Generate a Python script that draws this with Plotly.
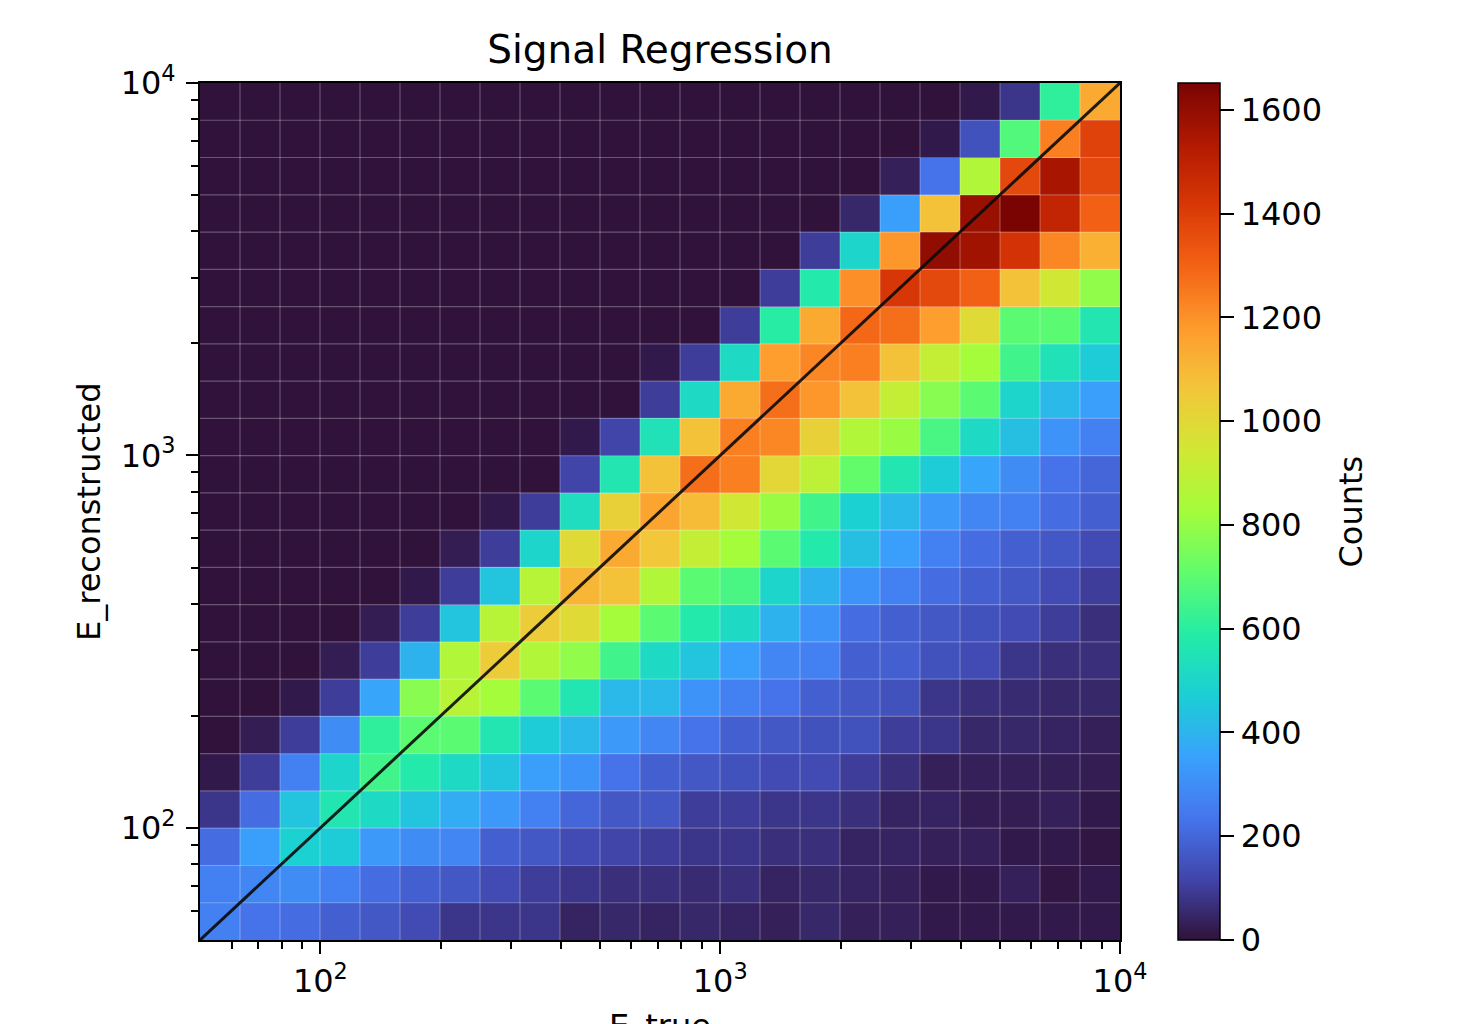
import numpy as np
import plotly.graph_objects as go

# ---- data -------------------------------------------------------------
# bin edges (log spaced, 23 bins from 50 to 1e4) for E_true and E_reconstructed
e_min, e_max, n_bins = 50.0, 1.0e4, 23
x_edges = list(np.logspace(np.log10(e_min), np.log10(e_max), n_bins + 1))
y_edges = list(np.logspace(np.log10(e_min), np.log10(e_max), n_bins + 1))

# counts per cell; each row is one E_reconstructed bin, listed from the TOP (highest) row down,
# each column one E_true bin from left (lowest) to right
counts_top_down = [
    [0, 0, 0, 0, 0, 0, 0, 0, 0, 0, 0, 0, 0, 0, 0, 0, 0, 0, 0, 17, 83, 611, 1140],
    [0, 0, 0, 0, 0, 0, 0, 0, 0, 0, 0, 0, 0, 0, 0, 0, 0, 0, 17, 149, 677, 1239, 1388],
    [0, 0, 0, 0, 0, 0, 0, 0, 0, 0, 0, 0, 0, 0, 0, 0, 0, 33, 231, 859, 1371, 1553, 1371],
    [0, 0, 0, 0, 0, 0, 0, 0, 0, 0, 0, 0, 0, 0, 0, 0, 50, 347, 1074, 1586, 1652, 1487, 1305],
    [0, 0, 0, 0, 0, 0, 0, 0, 0, 0, 0, 0, 0, 0, 0, 99, 496, 1189, 1602, 1569, 1437, 1222, 1123],
    [0, 0, 0, 0, 0, 0, 0, 0, 0, 0, 0, 0, 0, 0, 99, 578, 1206, 1421, 1371, 1305, 1074, 942, 793],
    [0, 0, 0, 0, 0, 0, 0, 0, 0, 0, 0, 0, 0, 99, 595, 1140, 1289, 1272, 1173, 991, 694, 694, 562],
    [0, 0, 0, 0, 0, 0, 0, 0, 0, 0, 0, 17, 99, 512, 1173, 1222, 1239, 1074, 909, 826, 644, 545, 463],
    [0, 0, 0, 0, 0, 0, 0, 0, 0, 0, 0, 99, 512, 1140, 1272, 1189, 1074, 909, 776, 694, 496, 413, 347],
    [0, 0, 0, 0, 0, 0, 0, 0, 0, 17, 116, 545, 1074, 1239, 1222, 1024, 859, 809, 661, 512, 430, 314, 264],
    [0, 0, 0, 0, 0, 0, 0, 0, 0, 116, 562, 1074, 1272, 1239, 1008, 892, 710, 562, 463, 363, 297, 231, 198],
    [0, 0, 0, 0, 0, 0, 0, 17, 99, 529, 1024, 1156, 1090, 942, 809, 644, 479, 413, 330, 281, 264, 215, 182],
    [0, 0, 0, 0, 0, 0, 25, 99, 496, 991, 1140, 1057, 909, 826, 694, 578, 430, 347, 264, 215, 182, 165, 132],
    [0, 0, 0, 0, 0, 17, 99, 446, 876, 1107, 1074, 859, 694, 661, 496, 396, 314, 264, 215, 182, 165, 132, 99],
    [0, 0, 0, 0, 25, 99, 446, 876, 1041, 991, 826, 694, 578, 512, 396, 314, 215, 182, 165, 149, 132, 99, 66],
    [0, 0, 0, 25, 99, 396, 859, 1041, 859, 793, 644, 512, 446, 347, 281, 264, 182, 182, 149, 132, 83, 66, 66],
    [0, 0, 17, 99, 363, 776, 876, 826, 694, 562, 413, 413, 314, 264, 231, 182, 165, 149, 83, 66, 58, 50, 50],
    [0, 25, 99, 297, 611, 694, 694, 562, 463, 413, 330, 281, 231, 182, 165, 149, 149, 99, 83, 50, 50, 41, 33],
    [17, 99, 264, 496, 644, 578, 512, 446, 347, 314, 231, 182, 165, 149, 132, 132, 99, 66, 33, 33, 33, 30, 25],
    [83, 215, 446, 562, 512, 446, 380, 330, 264, 198, 165, 165, 99, 99, 83, 83, 66, 41, 41, 25, 25, 33, 17],
    [215, 347, 479, 463, 330, 297, 281, 182, 165, 132, 116, 99, 83, 83, 66, 66, 41, 41, 33, 33, 17, 17, 8],
    [264, 281, 297, 264, 215, 182, 165, 132, 99, 83, 66, 66, 58, 66, 41, 50, 41, 33, 17, 17, 33, 8, 17],
    [264, 231, 215, 182, 165, 132, 83, 83, 83, 41, 50, 41, 50, 41, 33, 50, 33, 33, 17, 17, 17, 17, 17],
]
counts = counts_top_down[::-1]  # bottom row first for plotting

major_ticks = [1e2, 1e3, 1e4]
major_text = ["10<sup>2</sup>", "10<sup>3</sup>", "10<sup>4</sup>"]
cbar_ticks = [0, 200, 400, 600, 800, 1000, 1200, 1400, 1600]

# ---- figure -----------------------------------------------------------
FONT = "DejaVu Sans"
fig = go.Figure()

fig.add_trace(go.Heatmap(
    x=x_edges, y=y_edges, z=counts,
    colorscale="Turbo", zmin=0, zmax=max(max(r) for r in counts),
    colorbar=dict(
        x=(1178 - 200) / 920, xanchor="left", xpad=0, ypad=0,
        y=0.5, yanchor="middle", len=1, lenmode="fraction",
        thickness=42, thicknessmode="pixels",
        outlinewidth=1.5, outlinecolor="black",
        ticks="outside", ticklen=14, tickwidth=2, tickcolor="black",
        tickvals=cbar_ticks, tickfont=dict(family=FONT, size=32, color="black"),
    ),
    hoverinfo="skip",
))

# thin translucent white lines along every bin edge
gx, gy = [], []
for e in x_edges[1:-1]:
    gx += [e, e, None]
    gy += [y_edges[0], y_edges[-1], None]
for e in y_edges[1:-1]:
    gx += [x_edges[0], x_edges[-1], None]
    gy += [e, e, None]
fig.add_trace(go.Scatter(x=gx, y=gy, mode="lines",
                         line=dict(color="rgba(255,255,255,0.28)", width=1.2),
                         hoverinfo="skip", showlegend=False))

# identity line E_reco = E_true
fig.add_trace(go.Scatter(x=[x_edges[0], x_edges[-1]], y=[y_edges[0], y_edges[-1]],
                         mode="lines", line=dict(color="rgba(10,10,10,0.9)", width=3),
                         hoverinfo="skip", showlegend=False))

minor_vals = [m * 10 ** p for p in range(1, 5) for m in range(2, 10)
              if e_min < m * 10 ** p < e_max]

axis_common = dict(
    type="log", showgrid=False, zeroline=False, automargin=False,
    showline=True, mirror=True, linecolor="black", linewidth=2,
    ticks="outside", ticklen=12, tickwidth=2, tickcolor="black",
    tickvals=major_ticks, ticktext=major_text,
    tickfont=dict(family=FONT, size=32, color="black"),
    minor=dict(tickvals=minor_vals, ticks="outside", ticklen=7, tickwidth=1.5,
               tickcolor="black", showgrid=False),
)

label_font = dict(family=FONT, size=32, color="black")

# page body adds an 8px offset; the figure is sized/margined to compensate
fig.update_layout(
    width=1470, height=1016, autosize=False,
    margin=dict(l=192, r=358, t=75, b=84),
    paper_bgcolor="white", plot_bgcolor="white",
    font=dict(family=FONT, color="black"),
    title=dict(text="Signal Regression", x=0.5, xref="paper", xanchor="center",
               y=1 - 41 / 1016, yanchor="middle", yref="container",
               font=dict(family=FONT, size=39, color="black")),
    xaxis=dict(axis_common, range=[np.log10(x_edges[0]), np.log10(x_edges[-1])]),
    yaxis=dict(axis_common, range=[np.log10(y_edges[0]), np.log10(y_edges[-1])],
               ticklabelstandoff=4),
    annotations=[
        dict(text="Counts", textangle=-90, showarrow=False,
             xref="paper", yref="paper", x=(1350 - 200) / 920, y=0.5,
             xanchor="center", yanchor="middle", font=label_font),
        dict(text="E_reconstructed", textangle=-90, showarrow=False,
             xref="paper", yref="paper", x=(88.5 - 200) / 920, y=0.5,
             xanchor="center", yanchor="middle", font=label_font),
        dict(text="E_true", showarrow=False,
             xref="paper", yref="paper", x=0.5, y=-(1005 - 940) / 857,
             xanchor="center", yanchor="top", font=label_font),
    ],
    showlegend=False,
)

fig.write_html("out.html")
